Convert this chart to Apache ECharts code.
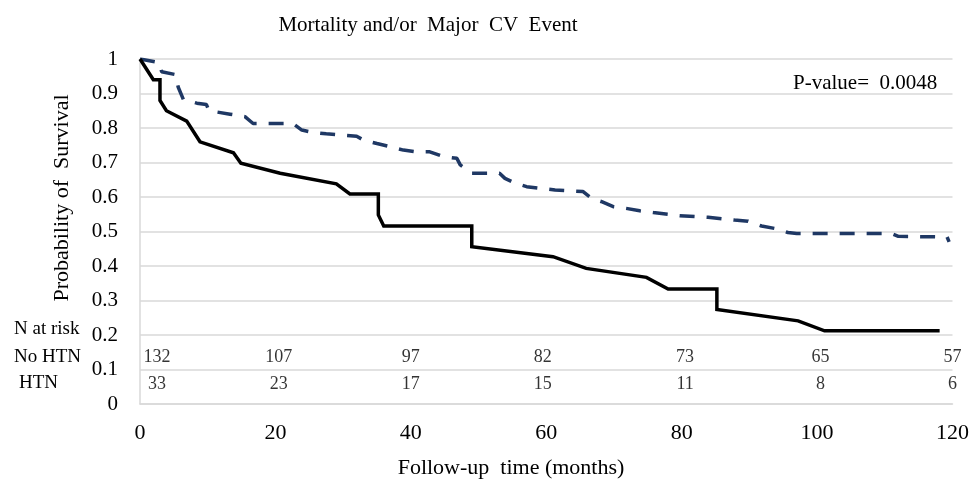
<!DOCTYPE html>
<html>
<head>
<meta charset="utf-8">
<script src="https://cdn.jsdelivr.net/npm/echarts@6/dist/echarts.min.js"></script>
<style>
  html, body { margin: 0; padding: 0; background: #fff; }
  #main { width: 972px; height: 479px; }
</style>
</head>
<body>
<div id="main"></div>
<script>
// survival curves, [months, probability]
var noHtnCurve = [
  [0, 1.0], [2.8, 0.99], [3.2, 0.963], [5.2, 0.955], [5.65, 0.918], [6.4, 0.883],
  [8.4, 0.872], [9.8, 0.868], [10.2, 0.85], [13.3, 0.84], [15.5, 0.833],
  [16.7, 0.813], [22.6, 0.813], [23.9, 0.794], [25.6, 0.787], [27.5, 0.783],
  [29.5, 0.78], [32, 0.776], [33, 0.765], [35, 0.755], [36.9, 0.746],
  [38.9, 0.736], [40.8, 0.731], [42.8, 0.731], [44.8, 0.717], [46.8, 0.712],
  [47.3, 0.693], [49, 0.669], [53.1, 0.669], [53.9, 0.654], [55.4, 0.64],
  [57.1, 0.63], [59.3, 0.625], [61.3, 0.62], [65.4, 0.616], [66.7, 0.596],
  [68.1, 0.587], [69.9, 0.572], [71.8, 0.567], [73.8, 0.56], [75.8, 0.555],
  [79.7, 0.546], [83.9, 0.541], [87.8, 0.533], [89.8, 0.53], [91.8, 0.516],
  [93.7, 0.509], [95.7, 0.497], [97, 0.494], [111, 0.494], [112, 0.486],
  [119.2, 0.484], [119.5, 0.47]
];
var htnCurve = [
  [0, 1.0], [1.97, 0.94], [2.95, 0.94], [2.95, 0.88], [3.9, 0.85], [6.9, 0.82],
  [8.86, 0.76], [13.8, 0.728], [14.9, 0.698], [20.7, 0.669], [29.0, 0.638],
  [31.0, 0.609], [35.2, 0.609], [35.2, 0.548], [36.0, 0.516], [49.0, 0.516],
  [49.0, 0.456], [61.0, 0.427], [65.9, 0.393], [74.8, 0.367], [78.0, 0.333],
  [85.2, 0.333], [85.2, 0.274], [97.2, 0.241], [101.1, 0.212], [118.1, 0.212]
];

// numbers at risk
var riskMonths = [2.5, 20.5, 40, 59.5, 80.5, 100.5, 120];
var riskNoHtn = [132, 107, 97, 82, 73, 65, 57];
var riskHtn = [33, 23, 17, 15, 11, 8, 6];

var xTicks = [0, 20, 40, 60, 80, 100, 120];
var yTicks = [0, 0.1, 0.2, 0.3, 0.4, 0.5, 0.6, 0.7, 0.8, 0.9, 1];

var serif = '"Liberation Serif", "DejaVu Serif", serif';

var chart = echarts.init(document.getElementById('main'), null, { renderer: 'canvas' });

function riskRow(counts, rowY) {
  return riskMonths.map(function (m, i) { return { value: [m, rowY], name: String(counts[i]) }; });
}

var option = {
  animation: false,
  backgroundColor: '#fff',
  textStyle: { fontFamily: serif },
  grid: { left: 140, right: 19, top: 59, bottom: 75 },
  graphic: [
    { type: 'text', x: 428, y: 25, style: { text: 'Mortality and/or  Major  CV  Event', font: '21px ' + serif, fill: '#000', align: 'center', verticalAlign: 'middle' } },
    { type: 'text', x: 793, y: 83, style: { text: 'P-value=  0.0048', font: '21px ' + serif, fill: '#000', align: 'left', verticalAlign: 'middle' } },
    { type: 'text', x: 62, y: 198, rotation: Math.PI / 2, style: { text: 'Probability of  Survival', font: '22px ' + serif, fill: '#000', align: 'center', verticalAlign: 'middle' } },
    { type: 'text', x: 511, y: 468, style: { text: 'Follow-up  time (months)', font: '22px ' + serif, fill: '#000', align: 'center', verticalAlign: 'middle' } },
    { type: 'text', x: 14, y: 329, style: { text: 'N at risk', font: '19px ' + serif, fill: '#000', verticalAlign: 'middle' } },
    { type: 'text', x: 14, y: 357, style: { text: 'No HTN', font: '19px ' + serif, fill: '#000', verticalAlign: 'middle' } },
    { type: 'text', x: 19, y: 383, style: { text: 'HTN', font: '19px ' + serif, fill: '#000', verticalAlign: 'middle' } }
  ],
  xAxis: {
    type: 'value', min: 0, max: 120, interval: 20,
    axisLine: { show: true, lineStyle: { color: '#d9d9d9', width: 1.5 } },
    axisTick: { show: false },
    axisLabel: {
      fontFamily: serif, fontSize: 22, color: '#000', margin: 18,
      formatter: function (v) { return xTicks.indexOf(v) >= 0 ? String(v) : ''; }
    },
    splitLine: { show: false }
  },
  yAxis: {
    type: 'value', min: 0, max: 1, interval: 0.1,
    axisLine: { show: true, lineStyle: { color: '#d9d9d9', width: 1.5 } },
    axisTick: { show: false },
    axisLabel: {
      fontFamily: serif, fontSize: 21, color: '#000', margin: 22,
      formatter: function (v) {
        var r = Math.round(v * 10) / 10;
        return yTicks.indexOf(r) >= 0 ? String(r) : '';
      }
    },
    splitLine: { show: true, lineStyle: { color: '#d9d9d9', width: 1.5 } }
  },
  series: [
    {
      name: 'No HTN', type: 'line', data: noHtnCurve, showSymbol: false, symbol: 'none',
      lineStyle: { color: '#1f3864', width: 3.5, type: [15, 12], cap: 'butt' }
    },
    {
      name: 'HTN', type: 'line', data: htnCurve, showSymbol: false, symbol: 'none',
      lineStyle: { color: '#000', width: 3.5, join: 'miter' }
    },
    {
      name: 'risk No HTN', type: 'scatter', symbolSize: 0, clip: false,
      data: riskRow(riskNoHtn, 0.136),
      label: { show: true, position: 'inside', formatter: '{b}', fontFamily: serif, fontSize: 18, color: '#000' }
    },
    {
      name: 'risk HTN', type: 'scatter', symbolSize: 0, clip: false,
      data: riskRow(riskHtn, 0.056),
      label: { show: true, position: 'inside', formatter: '{b}', fontFamily: serif, fontSize: 18, color: '#000' }
    }
  ]
};

chart.setOption(option);
window.addEventListener('resize', chart.resize);
</script>
</body>
</html>
